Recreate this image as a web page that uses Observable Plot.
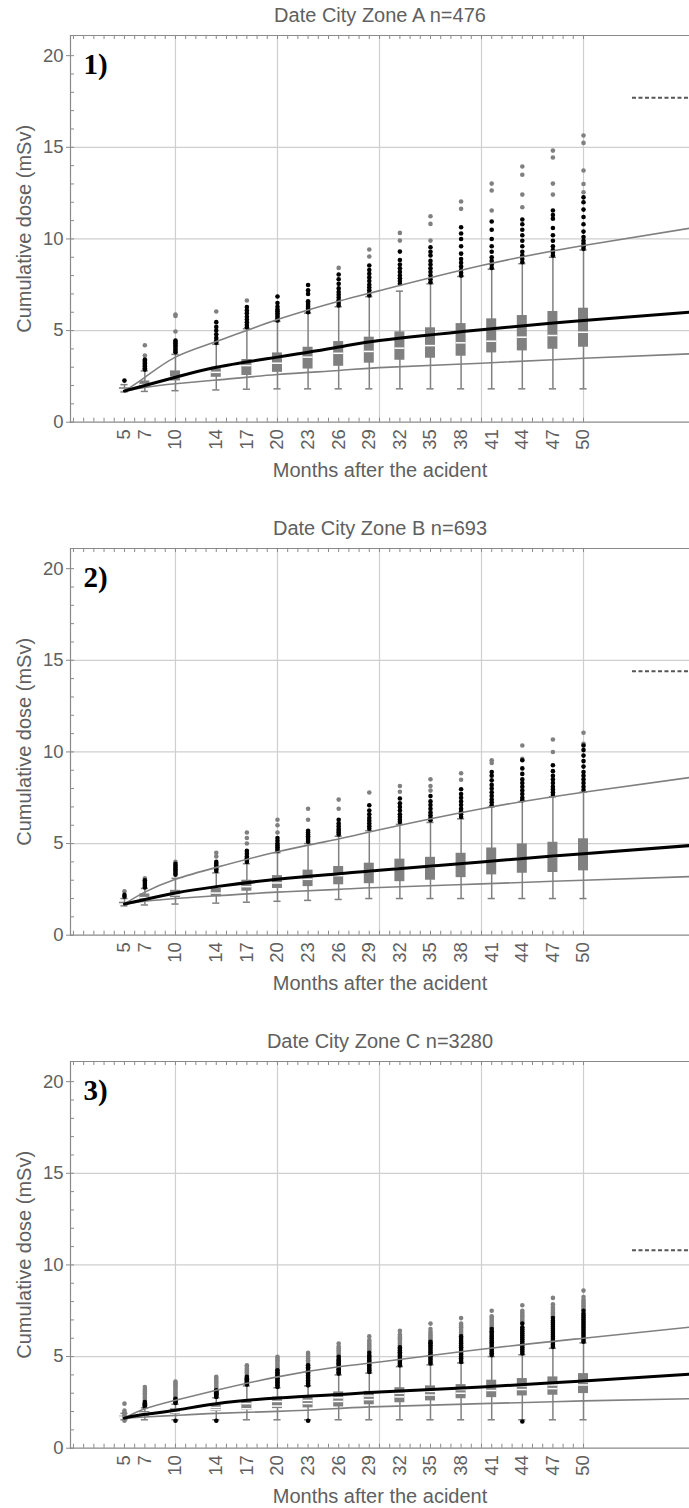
<!DOCTYPE html>
<html><head><meta charset="utf-8">
<script src="https://cdn.jsdelivr.net/npm/d3@7"></script>
<script src="https://cdn.jsdelivr.net/npm/@observablehq/plot@0.6"></script>
<style>
body{margin:0;background:#fff;}
#root{width:689px;overflow:hidden;}
svg{display:block;}
</style></head><body><div id="root"></div>
<script>
// ---------- shared ----------
const months = [5,7,10,14,17,20,23,26,29,32,35,38,41,44,47,50];
const minorMonths = d3.range(0, 51);
const minorDose = d3.range(0, 21);
const yTicks = [0,5,10,15,20];
const gridMonths = [10,20,30,40,50];
const gridDose = [5,10,15];
const titles = ["Date City Zone A n=476", "Date City Zone B n=693", "Date City Zone C n=3280"];
const tags = ["1)", "2)", "3)"];
const xLabel = "Months after the acident";
const yLabel = "Cumulative dose (mSv)";
const refDose = [17.7, 14.4, 10.8];
const refStart = 54.8;
const curveMonths = [5, 7, 10, 14, 20, 26, 30, 40, 50, 60.4];

// ---------- panel 1 ----------
const p1Lo  = [1.65,1.68,1.72,1.76,1.8,1.82,1.82,1.82,1.82,1.82,1.82,1.82,1.82,1.82,1.82,1.82];
const p1Q1  = [1.72,1.92,2.25,2.45,2.55,2.72,2.9,3.05,3.22,3.38,3.49,3.6,3.78,3.89,3.98,4.09];
const p1Med = [1.78,2.05,2.45,2.72,3.09,3.22,3.55,3.76,3.86,4.04,4.18,4.33,4.42,4.64,4.73,4.91];
const p1Q3  = [1.88,2.25,2.8,3.0,3.42,3.78,4.09,4.4,4.64,4.93,5.15,5.38,5.64,5.82,6.04,6.22];
const p1Hi  = [2.05,2.8,3.7,4.25,5.1,5.5,5.95,6.3,6.85,7.15,7.55,7.95,8.35,8.65,9.0,9.4];
const p1Med2 = [];
const p1Near = [
  [2.27],
  [2.87,2.95,3.05,3.12,3.2,3.28,3.35,3.42],
  [3.82,3.9,4.0,4.1,4.2,4.3,4.38,4.46],
  [4.33,4.45,4.6,4.8,5.0,5.2,5.46],
  [5.18,5.3,5.45,5.6,5.75,5.95,6.1,6.28],
  [5.55,5.65,5.75,5.85,5.95,6.05,6.15,6.3,6.5,6.86],
  [6.0,6.1,6.2,6.3,6.4,6.5,6.6,7.0,7.2,7.49],
  [6.37,6.5,6.65,6.8,6.95,7.1,7.3,7.55,7.8,8.06],
  [6.91,7.05,7.2,7.35,7.5,7.7,7.9,8.1,8.3,8.55],
  [7.55,7.7,7.85,8.0,8.2,8.4,8.6,8.85,9.31],
  [7.64,7.8,8.0,8.2,8.4,8.6,8.8,9.1,9.3,9.55],
  [8.0,8.15,8.3,8.5,8.7,8.9,9.2,9.6,10.0,10.3,10.64],
  [8.42,8.6,8.8,9.0,9.3,9.6,10.0,10.5,10.95],
  [8.73,8.9,9.1,9.3,9.6,9.9,10.2,10.5,10.8,11.06],
  [9.09,9.25,9.4,9.6,9.9,10.2,10.6,11.1,11.3,11.55],
  [9.46,9.6,9.75,9.9,10.1,10.4,10.8,11.2,11.6,12.0,12.27]
];
const p1Far = [
  [],[3.64,4.2],[4.95,5.8,5.87],[6.04],[6.64],[],[],[8.42],[9.04,9.42],[9.91,10.33],
  [9.91,10.82,11.24],[11.64,12.04],[11.55,12.64,13.02],[11.73,12.42,13.5,13.95],
  [12.42,13.02,14.44,14.82],[12.55,13.0,13.73,15.24,15.64]
];
const p1Upper = [1.7,2.45,3.55,4.4,5.6,6.6,7.18,8.55,9.64,10.58];
const p1Mid   = [1.7,2.0,2.45,3.0,3.55,4.1,4.46,5.05,5.55,6.0];
const p1Lower = [1.7,1.9,2.1,2.3,2.6,2.82,2.98,3.22,3.49,3.73];

// ---------- panel 2 ----------
const p2Lo  = [1.6,1.65,1.7,1.75,1.8,1.85,1.9,1.95,2.0,2.0,2.0,2.0,2.0,2.0,2.0,2.0];
const p2Q1  = [1.65,1.95,2.05,2.1,2.4,2.55,2.65,2.75,2.81,2.92,3.0,3.14,3.29,3.38,3.42,3.51];
const p2Med = [1.7,2.05,2.2,2.3,2.65,2.85,3.05,3.25,3.47,3.66,3.73,3.88,4.03,4.2,4.28,4.43];
const p2Q3  = [1.8,2.25,2.45,2.55,3.0,3.25,3.55,3.75,3.93,4.15,4.25,4.47,4.76,4.98,5.07,5.26];
const p2Hi  = [2.0,2.55,3.1,3.4,3.9,4.5,5.0,5.4,5.7,6.05,6.15,6.35,7.0,7.3,7.55,7.8];
const p2Med2 = [];
const p2Near = [
  [2.1,2.2],
  [2.6,2.7,2.8,2.9,3.0],
  [3.3,3.4,3.5,3.6,3.7,3.8,3.9],
  [3.5,3.6,3.7,3.8,3.9,4.0],
  [4.0,4.1,4.2,4.3,4.45,4.6],
  [4.6,4.7,4.8,4.9,5.0,5.15,5.3],
  [5.1,5.2,5.3,5.4,5.5,5.6,5.7],
  [5.5,5.6,5.7,5.8,5.95,6.1,6.3],
  [5.81,5.95,6.1,6.25,6.4,6.6,6.8,7.09],
  [6.17,6.3,6.45,6.6,6.8,7.0,7.2,7.46],
  [6.27,6.4,6.55,6.7,6.9,7.1,7.3,7.59],
  [6.45,6.6,6.75,6.9,7.1,7.3,7.5,7.7,7.96],
  [7.09,7.25,7.4,7.6,7.8,8.0,8.2,8.45,8.7,8.9],
  [7.37,7.5,7.7,7.9,8.1,8.3,8.5,8.8,9.1,9.55],
  [7.65,7.8,7.95,8.1,8.3,8.5,8.7,8.95,9.27],
  [7.92,8.1,8.3,8.5,8.7,8.9,9.2,9.5,9.8,10.1,10.35]
];
const p2Far = [
  [2.4],[3.1],[4.0],[4.3,4.5],[5.0,5.3,5.6],[5.6,6.0,6.3],[6.3,6.9],[6.9,7.4],[7.79],
  [7.83,8.14],[7.89,8.14,8.51],[8.48,8.84],[9.4,9.55],[9.62,10.35],[10.0,10.68],[10.44,11.05]
];
const p2Upper = [1.7,2.35,3.05,3.7,4.55,5.25,5.75,6.9,7.8,8.6];
const p2Mid   = [1.7,1.95,2.3,2.65,3.05,3.35,3.55,4.0,4.45,4.89];
const p2Lower = [1.7,1.85,2.0,2.15,2.35,2.5,2.6,2.8,3.0,3.2];

// ---------- panel 3 ----------
const p3Lo  = [1.55,1.55,1.55,1.55,1.55,1.55,1.55,1.55,1.55,1.55,1.55,1.55,1.55,1.55,1.55,1.55];
const p3Q1  = [1.6,1.75,1.85,2.0,2.07,2.16,2.2,2.25,2.37,2.48,2.58,2.7,2.76,2.85,2.89,2.98];
const p3Med = [1.65,1.85,1.95,2.1,2.15,2.3,2.43,2.55,2.65,2.8,2.9,3.0,3.15,3.2,3.25,3.45];
const p3Med2 = [1.7,1.92,2.05,2.22,2.43,2.55,2.61,2.75,2.85,3.0,3.1,3.2,3.35,3.4,3.45,3.62];
const p3Q3  = [1.75,2.0,2.15,2.35,2.61,2.79,2.85,3.07,3.1,3.3,3.4,3.47,3.71,3.8,3.89,4.07];
const p3Hi  = [1.9,2.2,2.4,2.75,3.4,3.3,3.4,4.0,4.1,4.45,4.55,4.65,5.0,5.1,5.45,5.75];
const p3Near = [
  [],
  [2.25,2.3,2.35,2.4,2.45,2.52],
  [1.5,2.47,2.52,2.57,2.62,2.7],
  [1.5,2.79,2.85,2.9,2.95,3.0,3.05,3.1,3.16],
  [3.47,3.52,3.58,3.64,3.7,3.76,3.82,3.89],
  [3.34,3.42,3.5,3.58,3.66,3.74,3.82,3.9,3.98,4.06,4.14,4.25],
  [1.5,3.43,3.52,3.61,3.7,3.79,3.88,3.97,4.06,4.15,4.24,4.33,4.42,4.52],
  [4.07,4.15,4.23,4.31,4.39,4.47,4.55,4.63,4.71,4.79,4.87,4.99],
  [4.16,4.25,4.34,4.43,4.52,4.61,4.7,4.79,4.88,4.97,5.06,5.2],
  [4.52,4.61,4.7,4.79,4.88,4.97,5.06,5.15,5.24,5.33,5.42,5.5],
  [4.62,4.72,4.82,4.92,5.02,5.12,5.22,5.32,5.42,5.52,5.62,5.72,5.8],
  [4.71,4.81,4.91,5.01,5.11,5.21,5.31,5.41,5.51,5.61,5.71,5.81,5.91,6.01,6.1],
  [5.08,5.18,5.28,5.38,5.48,5.58,5.68,5.78,5.88,5.98,6.08,6.18,6.28,6.38,6.5],
  [1.46,5.17,5.28,5.39,5.5,5.61,5.72,5.83,5.94,6.05,6.16,6.27,6.38,6.49,6.6,6.8],
  [5.53,5.64,5.75,5.86,5.97,6.08,6.19,6.3,6.41,6.52,6.63,6.74,6.85,6.96,7.1],
  [5.81,5.92,6.03,6.14,6.25,6.36,6.47,6.58,6.69,6.8,6.91,7.02,7.13,7.24,7.35,7.5]
];
const p3Far = [
  [1.5,1.6,1.7,1.8,1.9,1.95,2.05,2.43],
  [2.6,2.7,2.8,2.9,3.0,3.1,3.2,3.34],
  [2.78,2.88,2.98,3.08,3.18,3.28,3.38,3.48,3.56,3.64],
  [3.2,3.3,3.4,3.5,3.6,3.7,3.8,3.9],
  [3.95,4.05,4.15,4.25,4.35,4.45,4.52],
  [4.3,4.4,4.5,4.6,4.7,4.8,4.9,4.99],
  [4.6,4.7,4.8,4.9,5.0,5.1,5.2],
  [5.05,5.15,5.25,5.35,5.45,5.55,5.71],
  [5.3,5.4,5.5,5.6,5.7,5.8,5.9,6.1],
  [5.6,5.7,5.8,5.9,6.0,6.1,6.2,6.4],
  [5.85,5.95,6.05,6.15,6.25,6.35,6.5,6.8],
  [6.2,6.3,6.4,6.5,6.6,6.7,6.8,7.1],
  [6.6,6.7,6.8,6.9,7.0,7.1,7.2,7.5],
  [6.9,7.0,7.1,7.2,7.3,7.4,7.5,7.8],
  [7.2,7.3,7.4,7.5,7.6,7.7,7.85,8.2],
  [7.6,7.7,7.8,7.9,8.0,8.1,8.25,8.6]
];
const p3Upper = [1.64,2.15,2.62,3.16,3.89,4.44,4.7,5.4,6.0,6.6];
const p3Mid   = [1.64,1.85,2.07,2.43,2.74,2.93,3.06,3.34,3.67,4.04];
const p3Lower = [1.64,1.7,1.79,1.9,2.01,2.17,2.27,2.43,2.58,2.7];

const panels = [
  {lo:p1Lo,q1:p1Q1,med:p1Med,med2:p1Med2,q3:p1Q3,hi:p1Hi,near:p1Near,far:p1Far,up:p1Upper,mid:p1Mid,low:p1Lower},
  {lo:p2Lo,q1:p2Q1,med:p2Med,med2:p2Med2,q3:p2Q3,hi:p2Hi,near:p2Near,far:p2Far,up:p2Upper,mid:p2Mid,low:p2Lower},
  {lo:p3Lo,q1:p3Q1,med:p3Med,med2:p3Med2,q3:p3Q3,hi:p3Hi,near:p3Near,far:p3Far,up:p3Upper,mid:p3Mid,low:p3Lower}
];
const heights = [513, 513, 482];

// ---------- styling ----------
const GRAY = "#808080";
const AXIS = "#8a8a8a";
const TEXT = "#606060";
const FONT = "'Liberation Sans', Arial, Helvetica, sans-serif";
const W = 689, ML = 70, MT = 35, PLOT_H = 386.7;
const PLOT_W = W - ML;

function makePanel(i) {
  const p = panels[i];
  const h = heights[i];
  const boxes = months.map((m, j) => ({m, lo: p.lo[j], q1: p.q1[j], med: p.med[j], q3: p.q3[j], hi: p.hi[j]}));
  const med2 = p.med2.map((v, j) => ({m: months[j], v}));
  const nearPts = months.flatMap((m, j) => p.near[j].map(v => ({m, v})));
  const farPts = months.flatMap((m, j) => p.far[j].map(v => ({m, v})));
  const curve = key => curveMonths.map((m, j) => ({m, v: p[key][j]}));
  return Plot.plot({
    width: W, height: h,
    marginLeft: ML, marginRight: 0, marginTop: MT, marginBottom: h - MT - PLOT_H,
    style: {fontFamily: FONT, color: TEXT, background: "#fff", overflow: "visible"},
    x: {domain: [-0.29, 60.39]},
    y: {domain: [0, 21.1]},
    marks: [
      Plot.gridX(gridMonths, {stroke: "#cfcfcf", strokeOpacity: 1, strokeWidth: 1.2}),
      Plot.gridY(gridDose, {stroke: "#cfcfcf", strokeOpacity: 1, strokeWidth: 1.2}),
      Plot.ruleX(boxes, {x: "m", y1: "lo", y2: "hi", stroke: GRAY, strokeWidth: 1.5}),
      Plot.ruleY(boxes, {y: "lo", x1: d => d.m - 0.35, x2: d => d.m + 0.35, stroke: GRAY, strokeWidth: 1.5}),
      Plot.ruleY(boxes, {y: "hi", x1: d => d.m - 0.35, x2: d => d.m + 0.35, stroke: GRAY, strokeWidth: 1.5}),
      Plot.rect(boxes, {x1: d => d.m - 0.49, x2: d => d.m + 0.49, y1: "q1", y2: "q3", fill: GRAY}),
      Plot.ruleY(boxes, {y: "med", x1: d => d.m - 0.49, x2: d => d.m + 0.49, stroke: "#fff", strokeWidth: 1.5}),
      Plot.ruleY(med2, {y: "v", x1: d => d.m - 0.49, x2: d => d.m + 0.49, stroke: "#fff", strokeWidth: 1.5}),
      Plot.dot(farPts, {x: "m", y: "v", r: 2.3, fill: GRAY, stroke: "none"}),
      Plot.dot(nearPts, {x: "m", y: "v", r: 2.3, fill: "#000", stroke: "none"}),
      Plot.line(curve("low"), {x: "m", y: "v", stroke: GRAY, strokeWidth: 1.6, curve: "natural"}),
      Plot.line(curve("up"), {x: "m", y: "v", stroke: GRAY, strokeWidth: 1.6, curve: "natural"}),
      Plot.line(curve("mid"), {x: "m", y: "v", stroke: "#000", strokeWidth: 3, curve: "natural"}),
      Plot.ruleY([refDose[i]], {x1: refStart, x2: 60.39, stroke: "#555", strokeWidth: 2, strokeDasharray: "4,2.5"}),
      // frame lines
      Plot.frame({anchor: "left", stroke: AXIS, strokeWidth: 1.2}),
      Plot.frame({anchor: "top", stroke: AXIS, strokeWidth: 1.2}),
      Plot.frame({anchor: "bottom", stroke: AXIS, strokeWidth: 1.2}),
      // minor inward ticks
      Plot.tickX(minorMonths, {x: d => d, insetTop: PLOT_H - 4, stroke: AXIS}),
      Plot.tickX(minorMonths, {x: d => d, insetBottom: PLOT_H - 4, stroke: AXIS}),
      Plot.tickY(minorDose, {y: d => d, insetRight: PLOT_W - 4, stroke: AXIS}),
      // axes
      Plot.axisY(yTicks, {anchor: "left", tickSize: 4, tickPadding: 3, fontSize: 18.5, label: null, stroke: AXIS, fill: TEXT}),
      Plot.axisX(months, {anchor: "bottom", tickSize: 0, tickPadding: 7, tickRotate: -90, fontSize: 18.5, label: null, fill: TEXT}),
      // texts
      Plot.text([titles[i]], {text: d => d, frameAnchor: "top", dy: -20, textAnchor: "middle", lineAnchor: "middle", fontSize: 20, fill: TEXT}),
      Plot.text([xLabel], {text: d => d, frameAnchor: "bottom", dy: 48, textAnchor: "middle", lineAnchor: "middle", fontSize: 20, fill: TEXT}),
      Plot.text([yLabel], {text: d => d, frameAnchor: "left", dx: -45.5, rotate: -90, textAnchor: "middle", lineAnchor: "middle", fontSize: 20, fill: TEXT}),
      Plot.text([tags[i]], {text: d => d, frameAnchor: "top-left", dx: 13, dy: 29, textAnchor: "start", lineAnchor: "middle",
        fontSize: 29, fontWeight: "bold", fontFamily: "'Liberation Serif', 'DejaVu Serif', serif", fill: "#000"})
    ]
  });
}

const root = document.getElementById("root");
for (let i = 0; i < 3; i++) root.appendChild(makePanel(i));
</script></body></html>
